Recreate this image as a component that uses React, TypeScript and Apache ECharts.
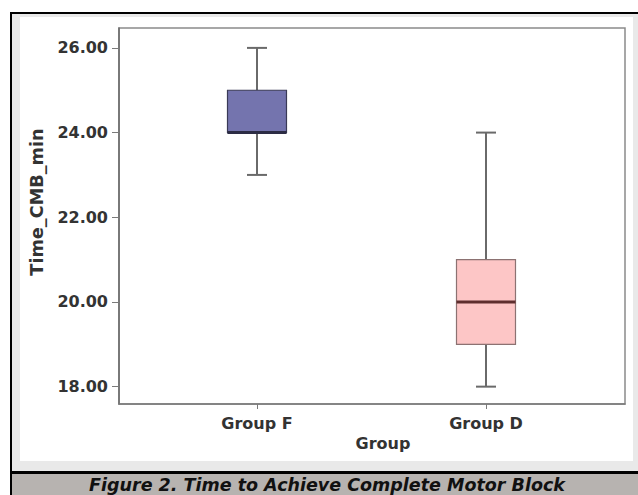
import React, { useEffect, useRef } from "react";
import * as echarts from "echarts";

// ---- data ----
const groups = ["Group F", "Group D"];
const minimums = [23, 18];
const q1s = [24, 19];
const medians = [24, 20];
const q3s = [25, 21];
const maximums = [26, 24];
const yTicks = [18, 20, 22, 24, 26];
const yAxisName = "Time_CMB_min";
const xAxisName = "Group";
const caption = "Figure 2. Time to Achieve Complete Motor Block";

// ---- styles ----
const FILLS = ["#7474ae", "#fdc6c6"];
const BORDERS = ["#3a3a56", "#8c7272"];
const MEDIANS = ["#2c2c44", "#5e2e2e"];
const WHISKER = "#6a6a6a";
const FONT = "DejaVu Sans";

export default function App() {
  const ref = useRef<HTMLDivElement>(null);

  useEffect(() => {
    if (!ref.current) return;
    const chart = echarts.init(ref.current, null, { renderer: "svg" });
    const data = groups.map((g, i) => [i, minimums[i], q1s[i], medians[i], q3s[i], maximums[i]]);

    chart.setOption({
      animation: false,
      backgroundColor: "#ffffff",
      textStyle: { fontFamily: FONT },
      graphic: [
        { type: "rect", z: -10, shape: { x: 10, y: 12, width: 628, height: 483 }, style: { fill: "#000000" } },
        { type: "rect", z: -9, shape: { x: 12, y: 14, width: 626, height: 457 }, style: { fill: "#e9e9e9" } },
        { type: "rect", z: -8, shape: { x: 20, y: 17, width: 613, height: 444 }, style: { fill: "#ffffff" } },
        { type: "rect", z: -9, shape: { x: 12, y: 474, width: 626, height: 21 }, style: { fill: "#b7b3b0" } },
        {
          type: "text",
          z: 5,
          x: 327,
          y: 485,
          style: {
            text: caption,
            fill: "#111111",
            font: `italic bold 17.5px "${FONT}"`,
            align: "center",
            verticalAlign: "middle",
          },
        },
      ],
      grid: {
        left: 119,
        top: 28,
        width: 506,
        height: 376,
        show: true,
        backgroundColor: "#ffffff",
        borderColor: "#8a8a8a",
        borderWidth: 1.5,
      },
      xAxis: {
        type: "value",
        min: -0.6026,
        max: 1.607,
        name: xAxisName,
        nameLocation: "middle",
        nameGap: 31,
        nameTextStyle: { fontFamily: FONT, fontWeight: "bold", fontSize: 16, color: "#333333", padding: [0, 0, 0, 22] },
        splitLine: { show: false },
        axisLine: { show: true, onZero: false, lineStyle: { color: "#7a7a7a", width: 1.5 } },
        axisTick: { show: true, length: 5, customValues: [0, 1], lineStyle: { color: "#7a7a7a" } },
        axisLabel: {
          customValues: [0, 1],
          formatter: (v: number) => groups[Math.round(v)] ?? "",
          margin: 11,
          fontFamily: FONT,
          fontWeight: "bold",
          fontSize: 16,
          color: "#333333",
        },
      },
      yAxis: {
        type: "value",
        min: 17.59,
        max: 26.47,
        name: yAxisName,
        nameLocation: "middle",
        nameGap: 68,
        nameRotate: 90,
        nameTextStyle: { fontFamily: FONT, fontWeight: "bold", fontSize: 17.7, color: "#333333", padding: [0, 0, 0, 28] },
        splitLine: { show: false },
        axisLine: { show: true, onZero: false, lineStyle: { color: "#6a6a6a", width: 1.5 } },
        axisTick: { show: true, length: 7, customValues: yTicks, lineStyle: { color: "#7a7a7a" } },
        axisLabel: {
          customValues: yTicks,
          formatter: (v: number) => v.toFixed(2),
          margin: 11,
          fontFamily: FONT,
          fontWeight: "bold",
          fontSize: 16,
          color: "#333333",
        },
      },
      series: [
        {
          type: "custom",
          data,
          encode: { x: 0, y: [1, 2, 3, 4, 5] },
          renderItem: (params: any, api: any) => {
            const i = params.dataIndex;
            const xv = api.value(0);
            const lo = api.coord([xv, api.value(1)]);
            const q1 = api.coord([xv, api.value(2)]);
            const md = api.coord([xv, api.value(3)]);
            const q3 = api.coord([xv, api.value(4)]);
            const hi = api.coord([xv, api.value(5)]);
            const cx = lo[0];
            const hw = 29.5;
            const cw = 10;
            const wStyle = { stroke: WHISKER, lineWidth: 2 };
            return {
              type: "group",
              children: [
                { type: "line", shape: { x1: cx, y1: hi[1], x2: cx, y2: q3[1] }, style: wStyle },
                { type: "line", shape: { x1: cx, y1: q1[1], x2: cx, y2: lo[1] }, style: wStyle },
                { type: "line", shape: { x1: cx - cw, y1: hi[1], x2: cx + cw, y2: hi[1] }, style: wStyle },
                { type: "line", shape: { x1: cx - cw, y1: lo[1], x2: cx + cw, y2: lo[1] }, style: wStyle },
                {
                  type: "rect",
                  shape: { x: cx - hw, y: q3[1], width: hw * 2, height: q1[1] - q3[1] },
                  style: { fill: FILLS[i], stroke: BORDERS[i], lineWidth: 1.2 },
                },
                {
                  type: "line",
                  shape: { x1: cx - hw, y1: md[1], x2: cx + hw, y2: md[1] },
                  style: { stroke: MEDIANS[i], lineWidth: 3 },
                },
              ],
            };
          },
        },
      ],
    });

    return () => chart.dispose();
  }, []);

  return (
    <div
      ref={ref}
      style={{ position: "fixed", left: 0, top: 0, width: 638, height: 495 }}
    />
  );
}
